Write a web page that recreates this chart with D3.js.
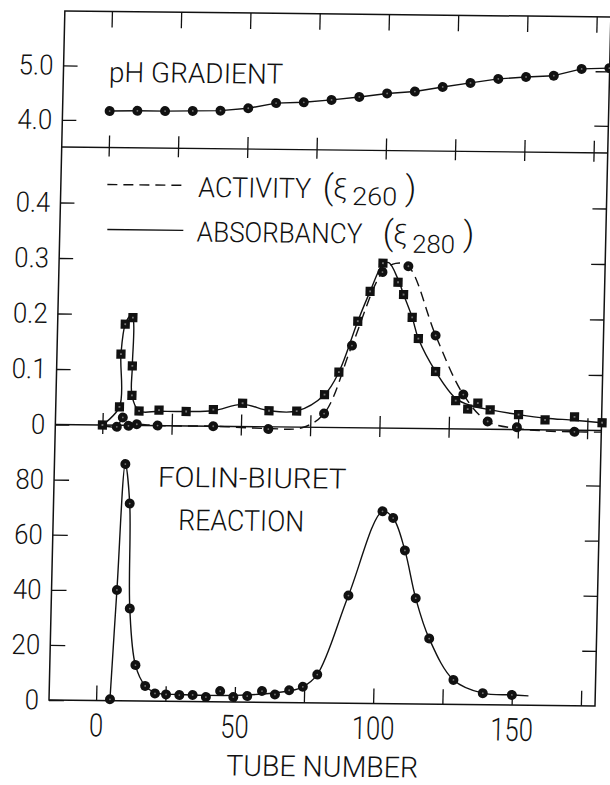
<!DOCTYPE html>
<html><head><meta charset="utf-8">
<script src="https://cdn.jsdelivr.net/npm/d3@7"></script>
<style>html,body{margin:0;padding:0;background:#fff;}svg{display:block;}</style>
</head><body>
<script>
// ---------------- DATA ----------------
const tubeTicks = [0, 25, 50, 75, 100, 125, 150, 175];
const tubeLabelTicks = [0, 50, 100, 150];
const phTicks = [4.0, 5.0];
const absTicks = [0, 0.1, 0.2, 0.3, 0.4];
const folinTicks = [0, 20, 40, 60, 80];

// pH gradient: [tube, pH]
const phPoints = [[0,4.17],[10,4.18],[20,4.18],[30,4.19],[40,4.20],[50,4.25],[60,4.35],[70,4.37],[80,4.42],[90,4.48],
  [100,4.55],[110,4.59],[120,4.68],[130,4.76],[140,4.84],[150,4.88],[160,4.91],[170,5.04],[180,5.06]];

// Absorbancy (E280) markers: [tube, value]
const absPoints = [[0,0],[6.0,0.033],[6.1,0.128],[7.4,0.182],[10.1,0.194],[10.3,0.107],[10.4,0.054],[13.1,0.026],
  [20.3,0.028],[30.1,0.026],[39.9,0.030],[50.4,0.042],[60,0.029],[70,0.029],[79.9,0.059],[84.9,0.100],[91.3,0.192],
  [95.5,0.246],[99.9,0.297],[105.5,0.263],[107.6,0.241],[110.9,0.200],[113.3,0.162],[119.8,0.103],[127.3,0.051],
  [131.7,0.036],[135.3,0.047],[139.8,0.035],[150.1,0.027],[159.7,0.018],[170.3,0.024],[180.3,0.014]];
// Absorbancy drawn curve
const absCurve = [[0,0],[6.0,0.033],[6.1,0.128],[7.4,0.182],[9.2,0.197],[10.1,0.194],[10.3,0.107],[10.4,0.054],[13.1,0.026],
  [20.3,0.026],[30.1,0.026],[39.9,0.028],[50.4,0.040],[60,0.029],[70,0.029],[79.9,0.059],[84.9,0.100],[91.3,0.192],
  [95.5,0.246],[99.9,0.295],[102,0.298],[105.5,0.268],[107.6,0.241],[110.9,0.200],[113.3,0.162],[119.8,0.103],[127.3,0.055],
  [133,0.042],[140,0.035],[150.1,0.027],[160,0.021],[170.3,0.018],[180.3,0.014]];

// Activity (E260) markers
const actPoints = [[5.2,-0.003],[7.3,0.014],[9.4,-0.001],[12.4,0.002],[19.9,0],[40,0],[59.9,-0.004],[79.9,0.025],
  [89.4,0.148],[99.8,0.281],[109.1,0.292],[119.5,0.168],[130,0.062],[139,0.014],[149.6,0.004],[170.4,-0.003]];
// Activity drawn (dashed) curve
const actCurve = [[0,0],[5.2,-0.003],[7.3,0.014],[9.4,-0.001],[12.4,0.002],[19.9,0],[40,0],[59.9,-0.003],[72,-0.001],
  [79.9,0.025],[89.4,0.148],[99.8,0.281],[104.5,0.297],[109.1,0.292],[119.5,0.168],[130,0.062],[139,0.014],[149.6,0.002],
  [160,-0.002],[170.4,-0.003],[180,-0.003]];

// Folin-Biuret reaction markers
const folinPoints = [[5,0.5],[6.6,40.2],[8.6,85.9],[10.5,71.6],[11.4,33.5],[13.9,13.0],[17.6,5.5],[21.2,2.8],[25.2,2.5],
  [30,2.3],[34.8,2.4],[39.6,1.7],[44.7,3.9],[49.5,1.8],[54.5,2.2],[59.8,4.1],[64.5,2.9],[69.6,4.5],[74.5,5.8],[79.6,10.3],
  [90.2,39.1],[101.8,69.8],[105.7,67.4],[110.2,55.7],[114.5,38.4],[119.7,23.8],[128.8,8.9],[139.5,4.2],[150,3.7]];
// Folin-Biuret drawn curve
const folinCurve = [[5,0.5],[6.6,40.2],[8.6,85.9],[10.5,71.6],[11.4,33.5],[13.9,13.0],[17.6,5.5],[21.2,3.1],[30,2.5],
  [40,2.3],[50,2.4],[60,3.0],[70,4.3],[74.5,5.8],[79.6,10.3],[90.2,39.1],[101.8,69.8],[105.7,67.4],[110.2,55.7],
  [114.5,38.4],[119.7,23.8],[128.8,8.9],[139.5,4.2],[150,3.7],[156,3.4]];

// ---------------- CHART ----------------
const W = 610, H = 785;
const INK = "#111";
const FONT = "Roboto, 'DejaVu Sans', sans-serif";
const L = 49, R = 595, T1 = 11, B1 = 147, B2 = 424.5, B3 = 700;

const svg = d3.select("body").append("svg").attr("width", W).attr("height", H);
svg.append("rect").attr("width", W).attr("height", H).attr("fill", "#fff");
// the scanned figure is slightly rotated/skewed
const g = svg.append("g").attr("transform", "matrix(1,0.011,-0.023,1,16.1,-0.55)");

const x = d3.scaleLinear().domain([-17, 180.1]).range([L, R]);
const yPh = d3.scaleLinear().domain([3.5, 6.0]).range([B1, T1]);
const yAbs = d3.scaleLinear().domain([0, 0.5]).range([B2, B1]);
const yFol = d3.scaleLinear().domain([0, 100]).range([B3, B2]);

// frame
g.append("rect").attr("x", L).attr("y", T1).attr("width", R - L).attr("height", B3 - T1)
  .attr("fill", "none").attr("stroke", INK).attr("stroke-width", 1.5);
[B1, B2].forEach(yb => g.append("line").attr("x1", L).attr("x2", R).attr("y1", yb).attr("y2", yb)
  .attr("stroke", INK).attr("stroke-width", 1.4));

function styleAxis(sel, size, sx) {
  sel.select(".domain").remove();
  sel.attr("font-family", null).attr("font-size", null);
  sel.selectAll(".tick line").attr("stroke", INK).attr("stroke-width", 1.3);
  sel.selectAll(".tick text").attr("fill", INK).attr("font-family", FONT).attr("font-weight", 300)
    .attr("font-size", size || 10);
  if (sx) sel.selectAll(".tick text").attr("transform", `scale(${sx},1)`);
}

// top edge ticks
g.append("g").attr("transform", `translate(0,${T1})`)
  .call(d3.axisTop(x).tickValues(tubeTicks).tickSize(-16).tickFormat(""))
  .call(s => styleAxis(s));
// shared borders: crossing ticks
[B1, B2].forEach(yb => {
  g.append("g").attr("transform", `translate(0,${yb})`)
    .call(d3.axisBottom(x).tickValues(tubeTicks).tickSize(9).tickFormat("")).call(s => styleAxis(s));
  g.append("g").attr("transform", `translate(0,${yb})`)
    .call(d3.axisTop(x).tickValues(tubeTicks).tickSize(12).tickFormat("")).call(s => styleAxis(s));
});
// bottom axis
g.append("g").attr("transform", `translate(0,${B3})`)
  .call(d3.axisBottom(x).tickValues(tubeTicks).tickSize(-15).tickPadding(13)
    .tickFormat(d => tubeLabelTicks.includes(d) ? String(d) : ""))
  .call(s => styleAxis(s, 32, 0.8));

// left axes
g.append("g").attr("transform", `translate(${L},0)`)
  .call(d3.axisLeft(yPh).tickValues(phTicks).tickSize(-14).tickPadding(11).tickFormat(d3.format(".1f")))
  .call(s => styleAxis(s, 28, 0.92));
g.append("g").attr("transform", `translate(${L},0)`)
  .call(d3.axisLeft(yAbs).tickValues(absTicks).tickSize(-14).tickPadding(11)
    .tickFormat(d => d === 0 ? "0" : d3.format(".1f")(d)))
  .call(s => styleAxis(s, 28, 0.92));
g.append("g").attr("transform", `translate(${L},0)`)
  .call(d3.axisLeft(yFol).tickValues(folinTicks).tickSize(-15).tickPadding(11).tickFormat(d3.format("d")))
  .call(s => styleAxis(s, 28, 0.92));
// right axes
[[yPh, phTicks], [yAbs, absTicks.filter(d => d > 0)], [yFol, folinTicks.filter(d => d > 0)]].forEach(([ys, tv]) => {
  g.append("g").attr("transform", `translate(${R},0)`)
    .call(d3.axisRight(ys).tickValues(tv).tickSize(-14).tickFormat("")).call(s => styleAxis(s));
});

// data lines
function drawLine(data, ys, curve, dash) {
  const p = g.append("path").datum(data)
    .attr("d", d3.line().x(d => x(d[0])).y(d => ys(d[1])).curve(curve))
    .attr("fill", "none").attr("stroke", INK).attr("stroke-width", 1.4).attr("stroke-linejoin", "round");
  if (dash) p.attr("stroke-dasharray", dash);
}
function drawCircles(data, ys) {
  const s = g.append("g");
  s.selectAll("circle.m").data(data).join("circle").attr("class", "m")
    .attr("cx", d => x(d[0])).attr("cy", d => ys(d[1])).attr("r", 5).attr("fill", INK);
  s.selectAll("circle.c").data(data).join("circle").attr("class", "c")
    .attr("cx", d => x(d[0])).attr("cy", d => ys(d[1])).attr("r", 0.9).attr("fill", "#777");
}
function drawSquares(data, ys) {
  const s = g.append("g");
  const h = 4.6;
  s.selectAll("rect.m").data(data).join("rect").attr("class", "m")
    .attr("x", d => x(d[0]) - h).attr("y", d => ys(d[1]) - h).attr("width", 2 * h).attr("height", 2 * h).attr("fill", INK);
  s.selectAll("rect.c").data(data).join("rect").attr("class", "c")
    .attr("x", d => x(d[0]) - 0.9).attr("y", d => ys(d[1]) - 0.9).attr("width", 1.8).attr("height", 1.8).attr("fill", "#777");
}

drawLine(phPoints, yPh, d3.curveLinear);
drawCircles(phPoints, yPh);

drawLine(actCurve, yAbs, d3.curveCatmullRom.alpha(0.5), "10,6");
drawLine(absCurve, yAbs, d3.curveCatmullRom.alpha(0.5));
drawCircles(actPoints, yAbs);
drawSquares(absPoints, yAbs);

drawLine(folinCurve, yFol, d3.curveCatmullRom.alpha(0.5));
drawCircles(folinPoints, yFol);

// texts
function label(str, xx, yy, size, len, anchor) {
  const t = g.append("text").attr("x", xx).attr("y", yy).text(str)
    .attr("font-family", FONT).attr("font-weight", 300).attr("font-size", size).attr("fill", INK)
    .attr("text-anchor", anchor || "start");
  if (len) t.attr("textLength", len).attr("lengthAdjust", "spacingAndGlyphs");
  return t;
}
label("pH GRADIENT", 94.6, 81.4, 28, 174);

// legend
g.append("line").attr("x1", 95.5).attr("x2", 171.5).attr("y1", 184).attr("y2", 184)
  .attr("stroke", INK).attr("stroke-width", 1.4).attr("stroke-dasharray", "10,6");
g.append("line").attr("x1", 96.5).attr("x2", 172.5).attr("y1", 229).attr("y2", 229)
  .attr("stroke", INK).attr("stroke-width", 1.4);
label("ACTIVITY", 186.4, 195.4, 28, 113);
label("(", 311, 196, 34);
label("ξ", 321.5, 195, 28);
label("260", 340.6, 201.7, 25, 45);
label(")", 393.5, 196, 34);
label("ABSORBANCY", 186, 240.1, 28, 165.5);
label("(", 372, 241, 34);
label("ξ", 382.5, 240, 28);
label("280", 401.5, 248.8, 25, 43);
label(")", 452.5, 241, 34);

label("FOLIN-BIURET", 152.7, 485.5, 28, 188.5);
label("REACTION", 174.1, 528.6, 29, 126);
label("TUBE NUMBER", 227.6, 773.5, 29, 192);
</script>
</body></html>
